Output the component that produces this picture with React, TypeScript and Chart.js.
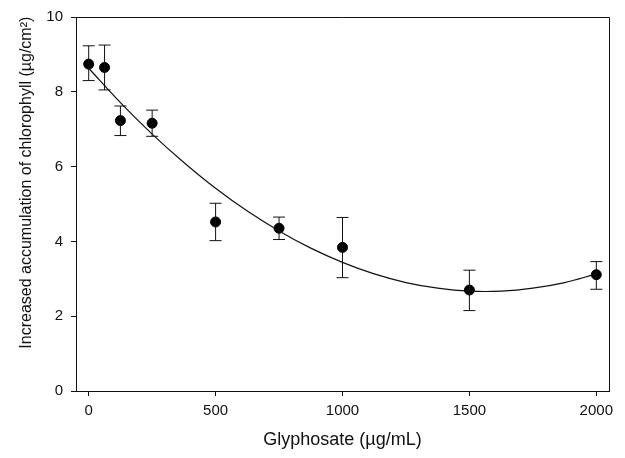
import React, { useEffect, useRef } from "react";
import { Chart, registerables } from "chart.js";

Chart.register(...registerables);

// Glyphosate concentrations (µg/mL)
const concentrations = [0, 62.5, 125, 250, 500, 750, 1000, 1500, 2000];
// Mean increased accumulation of chlorophyll (µg/cm²)
const chlorophyllMeans = [8.74, 8.65, 7.23, 7.16, 4.52, 4.35, 3.84, 2.7, 3.11];
// Error bar ends
const errorUpper = [9.23, 9.25, 7.62, 7.51, 5.02, 4.65, 4.64, 3.23, 3.46];
const errorLower = [8.3, 8.05, 6.83, 6.81, 4.02, 4.05, 3.03, 2.15, 2.72];
// Fitted curve
const fitX = [0, 125, 250, 375, 500, 625, 750, 875, 1000, 1125, 1250, 1375, 1500, 1625, 1750, 1875, 2000];
const fitY = [8.63, 7.71, 6.87, 6.11, 5.42, 4.81, 4.28, 3.82, 3.44, 3.13, 2.9, 2.75, 2.67, 2.67, 2.75, 2.9, 3.13];
// Axis ticks
const xTicks = [0, 500, 1000, 1500, 2000];
const yTicks = [0, 2, 4, 6, 8, 10];

const xTitle = "Glyphosate (µg/mL)";
const yTitle = "Increased accumulation of chlorophyll (µg/cm²)";

const FONT = "'Liberation Sans', Arial, Helvetica, sans-serif";

const errorBarPlugin = {
  id: "errorBars",
  afterDatasetsDraw(chart: any) {
    const ctx = chart.ctx;
    const xs = chart.scales.x;
    const ys = chart.scales.y;
    ctx.save();
    ctx.strokeStyle = "#111";
    ctx.lineWidth = 1;
    const cap = 6;
    concentrations.forEach((c, i) => {
      const px = xs.getPixelForValue(c);
      const top = ys.getPixelForValue(errorUpper[i]);
      const bot = ys.getPixelForValue(errorLower[i]);
      ctx.beginPath();
      ctx.moveTo(px, top);
      ctx.lineTo(px, bot);
      ctx.moveTo(px - cap, top);
      ctx.lineTo(px + cap, top);
      ctx.moveTo(px - cap, bot);
      ctx.lineTo(px + cap, bot);
      ctx.stroke();
    });
    ctx.restore();
  },
};

const framePlugin = {
  id: "frame",
  afterDraw(chart: any) {
    const { ctx, chartArea } = chart;
    ctx.save();
    ctx.strokeStyle = "#111";
    ctx.lineWidth = 1;
    ctx.beginPath();
    ctx.moveTo(chartArea.left, chartArea.top + 0.5);
    ctx.lineTo(chartArea.right + 0.5, chartArea.top + 0.5);
    ctx.lineTo(chartArea.right + 0.5, chartArea.bottom);
    ctx.stroke();
    // Y axis title
    const cy = chartArea.top + (chartArea.bottom - chartArea.top) * 0.443;
    ctx.translate(27, cy);
    ctx.rotate(-Math.PI / 2);
    ctx.fillStyle = "#111";
    ctx.font = `16px ${FONT}`;
    ctx.textAlign = "center";
    ctx.textBaseline = "middle";
    ctx.fillText(yTitle, 0, 0);
    ctx.restore();
  },
};

export default function App() {
  const ref = useRef<HTMLCanvasElement>(null);

  useEffect(() => {
    if (!ref.current) return;
    const chart = new Chart(ref.current, {
      type: "scatter",
      data: {
        datasets: [
          {
            type: "line",
            data: fitX.map((x, i) => ({ x, y: fitY[i] })),
            borderColor: "#111",
            borderWidth: 1.2,
            pointRadius: 0,
            fill: false,
            tension: 0.4,
          } as any,
          {
            type: "scatter",
            data: concentrations.map((x, i) => ({ x, y: chlorophyllMeans[i] })),
            backgroundColor: "#000",
            borderColor: "#000",
            borderWidth: 1,
            pointRadius: 5,
          },
        ],
      },
      options: {
        animation: false,
        responsive: false,
        devicePixelRatio: 1,
        layout: { padding: { left: 0, top: 15, right: 16, bottom: 0 } },
        plugins: {
          legend: { display: false },
          tooltip: { enabled: false },
        },
        scales: {
          x: {
            type: "linear",
            min: -50,
            max: 2050,
            afterBuildTicks: (s: any) => {
              s.ticks = xTicks.map((v) => ({ value: v }));
            },
            afterFit: (s: any) => {
              s.height = 67;
            },
            ticks: {
              color: "#111",
              font: { family: FONT, size: 15 },
              padding: 6,
              maxRotation: 0,
              callback: (v: any) => String(v),
            },
            grid: {
              display: true,
              drawOnChartArea: false,
              drawTicks: true,
              tickLength: 5,
              color: "#111",
            },
            border: { display: true, color: "#111", width: 1 },
            title: {
              display: true,
              text: xTitle,
              color: "#111",
              font: { family: FONT, size: 18 },
              padding: { top: 0, bottom: 7 },
            },
          },
          y: {
            type: "linear",
            min: 0,
            max: 10,
            afterBuildTicks: (s: any) => {
              s.ticks = yTicks.map((v) => ({ value: v }));
            },
            afterFit: (s: any) => {
              s.width = 76;
            },
            ticks: {
              color: "#111",
              font: { family: FONT, size: 15 },
              padding: 8,
              callback: (v: any) => String(v),
            },
            grid: {
              display: true,
              drawOnChartArea: false,
              drawTicks: true,
              tickLength: 5,
              color: "#111",
            },
            border: { display: true, color: "#111", width: 1 },
          },
        },
      },
      plugins: [errorBarPlugin, framePlugin],
    });
    return () => chart.destroy();
  }, []);

  return (
    <div style={{ position: "fixed", left: 0, top: 0, width: 625, height: 458, background: "#fff" }}>
      <canvas ref={ref} width={625} height={458} style={{ width: 625, height: 458, display: "block" }} />
    </div>
  );
}
